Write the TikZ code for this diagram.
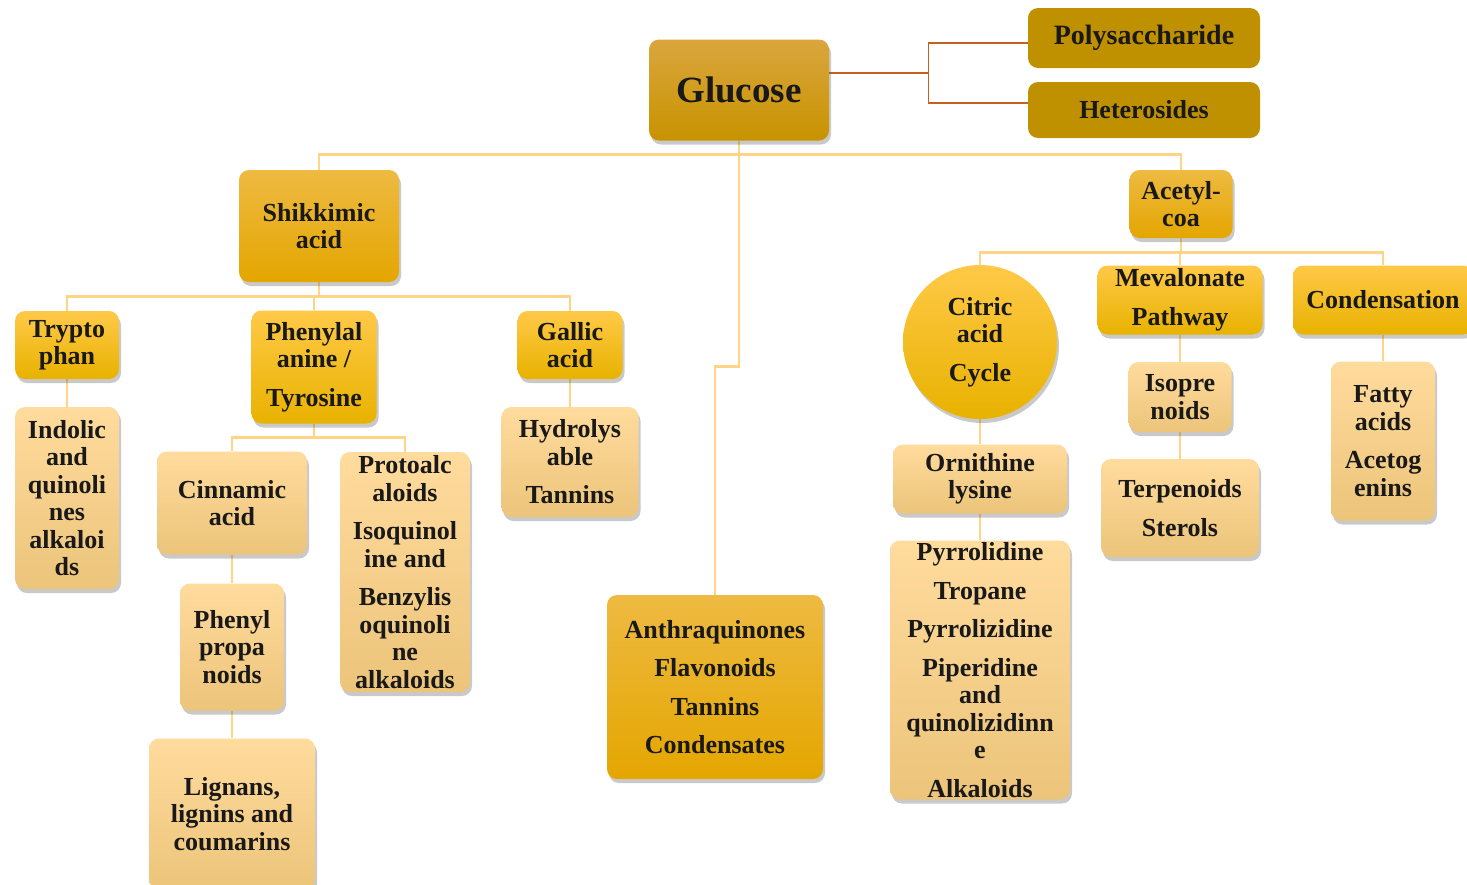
\documentclass[tikz,border=0pt]{standalone}
\usepackage{fontspec}
\setmainfont{Liberation Serif}
\usepackage{tikz}
\usetikzlibrary{positioning,shadows,backgrounds}
\definecolor{linkcol}{RGB}{255,212,135}
\definecolor{sidecol}{RGB}{197,96,30}
\definecolor{darkgold}{RGB}{191,144,0}

\begin{document}
\begin{tikzpicture}[
	x=1pt, y=-1pt,
	font=\fontsize{26}{27.5}\selectfont\bfseries,
	box/.style={rectangle, rounded corners=10pt, align=center, inner sep=0pt, text=black!90, drop shadow={shadow xshift=2pt, shadow yshift=-4pt, opacity=0.3, fill=black!70}},
	rootbox/.style={box, top color={rgb,255:red,218;green,166;blue,62}, middle color={rgb,255:red,214;green,160;blue,8}, bottom color={rgb,255:red,200;green,147;blue,0}},
	sidebox/.style={rectangle, rounded corners=10pt, align=center, inner sep=0pt, fill=darkgold, text=black!90, minimum width=232pt},
	lvlone/.style={box, top color={rgb,255:red,238;green,186;blue,66}, middle color={rgb,255:red,243;green,181;blue,10}, bottom color={rgb,255:red,228;green,166;blue,0}},
	lvltwo/.style={box, top color={rgb,255:red,255;green,201;blue,72}, middle color={rgb,255:red,252;green,194;blue,20}, bottom color={rgb,255:red,232;green,178;blue,0}},
	leaf/.style={box, top color={rgb,255:red,255;green,219;blue,157}, middle color={rgb,255:red,254;green,214;blue,146}, bottom color={rgb,255:red,236;green,196;blue,122}},
	link/.style={line width=2.6pt, linkcol},
	sidelink/.style={line width=1.4pt, sidecol},
]
\useasboundingbox (0,0) rectangle (1467,884);

% raiz e ramos laterais
\node[rootbox, minimum width=180pt, minimum height=101pt, font=\fontsize{37}{40}\selectfont\bfseries] (gluc) at (739,90) {Glucose};
\node[sidebox, minimum height=60pt, font=\fontsize{28}{30}\selectfont\bfseries] (poly) at (1144,38) {Polysaccharide};
\node[sidebox, minimum height=56pt] (hetr) at (1144,110) {Heterosides};

% primeiro nivel
\node[lvlone, minimum width=160pt, minimum height=112pt] (shik) at (319,226) {Shikkimic\\acid};
\node[lvlone, minimum width=103pt, minimum height=68pt] (acet) at (1181,204) {Acetyl-\\coa};
\node[lvlone, minimum width=216pt, minimum height=184pt] (anth) at (715,687) {Anthraquinones\\[11pt]Flavonoids\\[11pt]Tannins\\[11pt]Condensates};

% ramo do acido chiquimico
\node[lvltwo, minimum width=104pt, minimum height=68pt] (tryp) at (67,345) {Trypto\\phan};
\node[lvltwo, minimum width=125pt, minimum height=113pt] (phen) at (314,367) {Phenylal\\anine /\\[11pt]Tyrosine};
\node[lvltwo, minimum width=105pt, minimum height=68pt] (gall) at (570,345) {Gallic\\acid};
\node[leaf, minimum width=104pt, minimum height=182pt] (indo) at (67,498) {Indolic\\and\\quinoli\\nes\\alkaloi\\ds};
\node[leaf, minimum width=150pt, minimum height=103pt] (cinn) at (232,503) {Cinnamic\\acid};
\node[leaf, minimum width=130pt, minimum height=240pt] (prot) at (405,572) {Protoalc\\aloids\\[11pt]Isoquinol\\ine and\\[11pt]Benzylis\\oquinoli\\ne\\alkaloids};
\node[leaf, minimum width=104pt, minimum height=127pt] (ppro) at (232,647) {Phenyl\\propa\\noids};
\node[leaf, minimum width=166pt, minimum height=151pt] (lign) at (232,814) {Lignans,\\lignins and\\coumarins};
\node[leaf, minimum width=137pt, minimum height=110pt] (hydr) at (570,462) {Hydrolys\\able\\[11pt]Tannins};

% ramo do acetil-coa
\node[lvltwo, circle, minimum size=154pt] (citr) at (980,342) {Citric\\acid\\[11pt]Cycle};
\node[lvltwo, minimum width=165pt, minimum height=69pt] (meva) at (1180,300) {Mevalonate\\[11pt]Pathway};
\node[lvltwo, minimum width=180pt, minimum height=69pt] (cond) at (1383,300) {Condensation};
\node[leaf, minimum width=174pt, minimum height=69pt] (orni) at (980,479) {Ornithine\\lysine};
\node[leaf, minimum width=180pt, minimum height=259pt] (pyrr) at (980,670) {Pyrrolidine\\[11pt]Tropane\\[11pt]Pyrrolizidine\\[11pt]Piperidine\\and\\quinolizidinn\\e\\[11pt]Alkaloids};
\node[leaf, minimum width=103pt, minimum height=70pt] (isop) at (1180,397) {Isopre\\noids};
\node[leaf, minimum width=158pt, minimum height=98pt] (terp) at (1180,508) {Terpenoids\\[11pt]Sterols};
\node[leaf, minimum width=104pt, minimum height=159pt] (fatt) at (1383,441) {Fatty\\acids\\[11pt]Acetog\\enins};

% ligacoes
\begin{scope}[on background layer]
\draw[sidelink] ([yshift=17pt]gluc.east) -- ++(99,0) |- ([yshift=-5pt]poly.west);
\draw[sidelink] ([yshift=17pt]gluc.east) -- ++(99,0) |- ([yshift=7pt]hetr.west);

\draw[link] (gluc.south) -- ++(0,14) -| (shik.north);
\draw[link] (gluc.south) -- ++(0,14) -| (acet.north);
\draw[link] (gluc.south) -- ++(0,226) -| (anth.north);

\draw[link] (shik.south) -- ++(0,14) -| (tryp.north);
\draw[link] (shik.south) -- ++(0,14) -| (phen.north);
\draw[link] (shik.south) -- ++(0,14) -| (gall.north);
\draw[link] (tryp) -- (indo);
\draw[link] (gall) -- (hydr);
\draw[link] (phen.south) -- ++(0,14) -| (cinn.north);
\draw[link] (phen.south) -- ++(0,14) -| (prot.north);
\draw[link] (cinn) -- (ppro);
\draw[link] (ppro) -- (lign);

\draw[link] (acet.south) -- ++(0,14) -| (citr.north);
\draw[link] (acet.south) -- ++(0,14) -| (meva.north);
\draw[link] (acet.south) -- ++(0,14) -| (cond.north);
\draw[link] (citr) -- (orni);
\draw[link] (orni) -- (pyrr);
\draw[link] (meva) -- (isop);
\draw[link] (isop) -- (terp);
\draw[link] (cond) -- (fatt);
\end{scope}
\end{tikzpicture}
\end{document}
